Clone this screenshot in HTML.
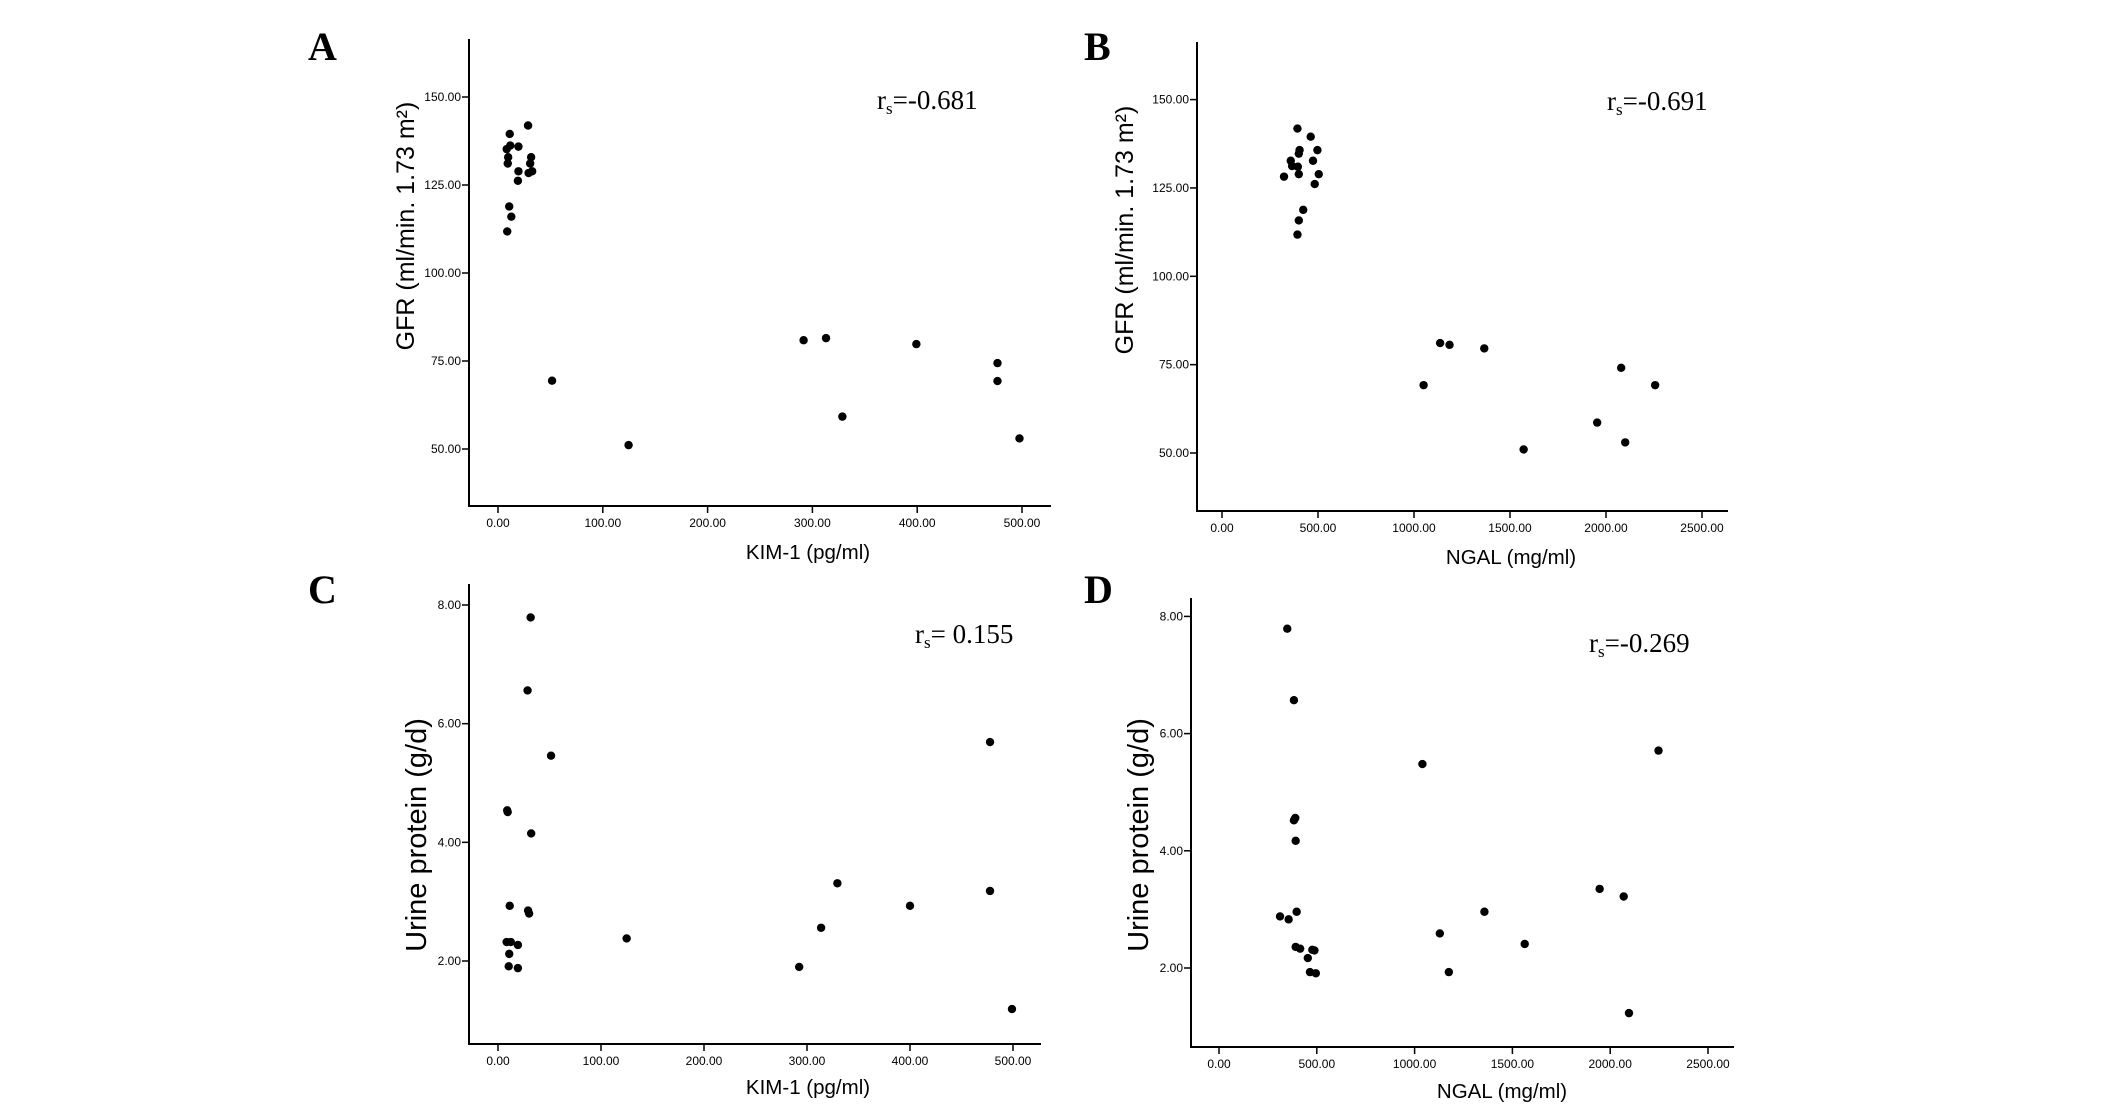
<!DOCTYPE html>
<html><head><meta charset="utf-8"><style>
html,body{margin:0;padding:0;background:#fff;}
svg{display:block;}
.tick{font-family:"Liberation Sans",sans-serif;font-size:12px;fill:#000;}
.ttl{font-family:"Liberation Sans",sans-serif;fill:#000;}
.lbl{font-family:"Liberation Serif",serif;font-weight:bold;font-size:40px;fill:#000;}
.rs{font-family:"Liberation Serif",serif;font-size:27px;fill:#000;}
</style></head><body>
<svg id="fig" width="2126" height="1106" viewBox="0 0 2126 1106" xmlns="http://www.w3.org/2000/svg"></svg>
<script>
// Panel A: KIM-1 vs GFR
const aKim = [28.7,11.2,11.7,8.3,19.5,9.7,31.6,9.3,30.7,19.5,29.2,32.6,19,10.7,12.7,8.8,51.6,124.6,291.6,313,328.6,399.2,476.6,476.6,497.6];
const aGfr = [141.9,139.5,136.2,135.2,135.9,132.9,132.9,131.1,131.1,128.9,128.4,128.9,126.2,118.9,116,111.8,69.4,51.1,80.9,81.5,59.2,79.8,74.4,69.3,53];
// Panel B: NGAL vs GFR
const bNgal = [393,462,404,497,400,358,474,365,395,323,400,504,483,423,400,393,1050,1136,1185,1366,1571,1954,2079,2100,2256];
const bGfr = [141.8,139.5,135.7,135.7,134.7,132.7,132.7,131.2,131,128.2,128.9,128.9,126.1,118.8,115.8,111.8,69.2,81.1,80.6,79.6,51,58.6,74.1,53,69.2];
// Panel C: KIM-1 vs urine protein
const cKim = [31.7,28.7,51.5,477.7,8.9,9.4,32.2,329.5,477.7,11.4,400,29.2,30.2,313.7,124.9,8.4,12.4,19.3,10.9,10.4,19.3,292.4,499];
const cProt = [7.79,6.56,5.46,5.69,4.54,4.51,4.15,3.31,3.18,2.93,2.93,2.85,2.80,2.56,2.38,2.32,2.32,2.27,2.12,1.91,1.88,1.90,1.19];
// Panel D: NGAL vs urine protein
const dNgal = [349,383,1040,2247,390,383,392,1946,2069,397,1357,312,356,1129,1563,392,415,477,488,454,465,495,1175,2096];
const dProt = [7.79,6.57,5.48,5.71,4.56,4.52,4.17,3.35,3.22,2.96,2.96,2.88,2.83,2.59,2.41,2.36,2.33,2.31,2.30,2.17,1.93,1.91,1.93,1.23];
// Tick values
const kimTicks = [0,100,200,300,400,500];
const ngalTicks = [0,500,1000,1500,2000,2500];
const gfrTicks = [50,75,100,125,150];
const protTicks = [2,4,6,8];
const rsLabels = ["=-0.681","=-0.691","= 0.155","=-0.269"];

const NS = "http://www.w3.org/2000/svg";
const svg = document.getElementById('fig');
function mk(tag, attrs, parent){
  const e = document.createElementNS(NS, tag);
  for (const k in attrs) e.setAttribute(k, attrs[k]);
  (parent||svg).appendChild(e);
  return e;
}
function lin(v0,p0,v1,p1){ return v => p0 + (v - v0) * (p1 - p0) / (v1 - v0); }

const panels = [
  {id:'a', letter:'A', lx:308, ly:60, ax:{x0:469, x1:1051, top:39, bot:506},
   sx:lin(0,498,500,1022), sy:lin(50,449,150,97), xs:aKim, ys:aGfr, xt:kimTicks, yt:gfrTicks,
   xtitle:'KIM-1 (pg/ml)', xtx:808, xty:559, ytitle:'GFR (ml/min. 1.73 m²)', ytx:414, yty:226, yfs:25, rsx:877, rsy:109},
  {id:'b', letter:'B', lx:1084, ly:60, ax:{x0:1197, x1:1728, top:42, bot:511},
   sx:lin(0,1222,2500,1702), sy:lin(50,453,150,99.6), xs:bNgal, ys:bGfr, xt:ngalTicks, yt:gfrTicks,
   xtitle:'NGAL (mg/ml)', xtx:1511, xty:564, ytitle:'GFR (ml/min. 1.73 m²)', ytx:1133, yty:230, yfs:25, rsx:1607, rsy:110},
  {id:'c', letter:'C', lx:308, ly:603, ax:{x0:469, x1:1041, top:584, bot:1044},
   sx:lin(0,498,500,1013), sy:lin(2,961,8,605), xs:cKim, ys:cProt, xt:kimTicks, yt:protTicks,
   xtitle:'KIM-1 (pg/ml)', xtx:808, xty:1094, ytitle:'Urine protein (g/d)', ytx:426, yty:835, yfs:29, rsx:915, rsy:643},
  {id:'d', letter:'D', lx:1084, ly:603, ax:{x0:1191, x1:1734, top:598, bot:1047},
   sx:lin(0,1219,2500,1708), sy:lin(2,968,8,616.4), xs:dNgal, ys:dProt, xt:ngalTicks, yt:protTicks,
   xtitle:'NGAL (mg/ml)', xtx:1502, xty:1098, ytitle:'Urine protein (g/d)', ytx:1148, yty:835, yfs:29, rsx:1589, rsy:652}
];

panels.forEach((p, i) => {
  const g = mk('g', {});
  
  

  const lab = mk('text', {x:p.lx, y:p.ly, class:'lbl'}, g);
  lab.textContent = p.letter;
  
  

  const yAxis = mk('line', {x1:p.ax.x0, y1:p.ax.top, x2:p.ax.x0, y2:p.ax.bot, stroke:'#000', 'stroke-width':2}, g);
  
  
  const xAxis = mk('line', {x1:p.ax.x0-1, y1:p.ax.bot, x2:p.ax.x1, y2:p.ax.bot, stroke:'#000', 'stroke-width':2}, g);
  
  

  p.yt.forEach(v => {
    const y = p.sy(v);
    mk('line', {x1:p.ax.x0-7, y1:y, x2:p.ax.x0, y2:y, stroke:'#000', 'stroke-width':1.5}, g);
    const t = mk('text', {x:p.ax.x0-8, y:y+4, 'text-anchor':'end', class:'tick'}, g);
    t.textContent = v.toFixed(2);
    
    
  });
  p.xt.forEach(v => {
    const x = p.sx(v);
    mk('line', {x1:x, y1:p.ax.bot, x2:x, y2:p.ax.bot+7, stroke:'#000', 'stroke-width':1.5}, g);
    const t = mk('text', {x:x, y:p.ax.bot+21, 'text-anchor':'middle', class:'tick'}, g);
    t.textContent = v.toFixed(2);
    
    
  });

  const xt = mk('text', {x:p.xtx, y:p.xty, 'text-anchor':'middle', class:'ttl', 'font-size':20.5}, g);
  xt.textContent = p.xtitle;
  
  

  const yt = mk('text', {x:0, y:0, 'text-anchor':'middle', class:'ttl', 'font-size':p.yfs, transform:'translate(' + p.ytx + ',' + p.yty + ') rotate(-90)'}, g);
  yt.textContent = p.ytitle;
  
  

  const rs = mk('text', {x:p.rsx, y:p.rsy, class:'rs'}, g);
  
  
  const r1 = mk('tspan', {}, rs); r1.textContent = 'r';
  const r2 = mk('tspan', {'font-size':17, dy:5}, rs); r2.textContent = 's';
  const r3 = mk('tspan', {dy:-5}, rs); r3.textContent = rsLabels[i];

  p.xs.forEach((xv, k) => {
    const c = mk('circle', {cx:p.sx(xv), cy:p.sy(p.ys[k]), r:4.2, fill:'#000'}, g);
    
    
  });
});
</script>
</body></html>
